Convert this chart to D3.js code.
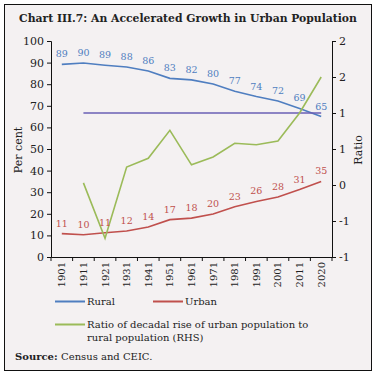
<!DOCTYPE html>
<html>
<head>
<meta charset="utf-8">
<script src="https://cdn.jsdelivr.net/npm/d3@7"></script>
<style>
  body { margin: 0; background: #fff; }
  text { font-family: "DejaVu Serif", "Liberation Serif", serif; fill: #222; }
  .axis path, .axis line { stroke: #111; }
</style>
</head>
<body>
<div id="chart-area"></div>
<script>
var years = ["1901", "1911", "1921", "1931", "1941", "1951", "1961", "1971", "1981", "1991", "2001", "2011", "2020"];
var rural = [89.2, 89.8, 88.8, 88.0, 86.1, 82.7, 82.0, 80.1, 76.7, 74.3, 72.2, 68.8, 65.0];
var urban = [10.8, 10.3, 11.2, 12.0, 13.9, 17.3, 18.0, 19.9, 23.3, 25.7, 27.8, 31.2, 35.0];
// ratio starts in 1911
var ratioYears = years.slice(1);
var ratio = [0.03, -0.74, 0.25, 0.37, 0.76, 0.28, 0.39, 0.58, 0.56, 0.61, 1.0, 1.5];
var refLine = 1;
var leftTicks = [0, 10, 20, 30, 40, 50, 60, 70, 80, 90, 100];
var rightTicks = [-1, -0.5, 0, 0.5, 1, 1.5, 2];

var W = 376, H = 377;
var svg = d3.select("#chart-area").append("svg")
    .attr("width", W)
    .attr("height", H);

svg.append("rect")
    .attr("x", 4.5).attr("y", 4.5)
    .attr("width", 367).attr("height", 366)
    .attr("fill", "#f4f1f2")
    .attr("stroke", "#111")
    .attr("stroke-width", 1);

svg.append("text")
    .attr("x", 188)
    .attr("y", 22)
    .attr("text-anchor", "middle")
    .attr("font-size", "10.8px")
    .attr("font-weight", "bold")
    .text("Chart III.7: An Accelerated Growth in Urban Population");

var x = d3.scaleBand().domain(years).range([51, 332]);
var yL = d3.scaleLinear().domain([0, 100]).range([257, 41]);
var yR = d3.scaleLinear().domain([-1, 2]).range([257, 41]);
var cx = function(d) { return x(d) + x.bandwidth() / 2; };

// axes
svg.append("g")
    .attr("class", "axis")
    .attr("transform", "translate(51,0)")
    .call(d3.axisLeft(yL).tickValues(leftTicks).tickSize(4).tickPadding(3))
    .selectAll("text").attr("font-size", "11px").attr("font-family", "DejaVu Serif");

svg.append("g")
    .attr("class", "axis")
    .attr("transform", "translate(332,0)")
    .call(d3.axisRight(yR).tickValues(rightTicks).tickSize(4).tickPadding(3)
        .tickFormat(function(d) { return Math.sign(d) * Math.round(Math.abs(d)); }))
    .selectAll("text").attr("font-size", "11px").attr("font-family", "DejaVu Serif");

var xAxis = svg.append("g")
    .attr("class", "axis")
    .attr("transform", "translate(0,257)")
    .call(d3.axisBottom(x).tickSize(0).tickSizeOuter(0));
xAxis.selectAll(".tick text")
    .attr("font-size", "10px")
    .attr("font-family", "DejaVu Serif")
    .attr("text-anchor", "end")
    .attr("transform", "translate(0,5) rotate(-90)")
    .attr("x", 0)
    .attr("y", 0)
    .attr("dy", "0.35em");
var bounds = years.map(function(d) { return x(d); }).concat([x.range()[1]]);
xAxis.selectAll(".bt").data(bounds).enter().append("line")
    .attr("x1", function(d) { return d; }).attr("x2", function(d) { return d; })
    .attr("y1", 0).attr("y2", 4)
    .attr("stroke", "#111");

svg.append("text")
    .attr("transform", "translate(22,150) rotate(-90)")
    .attr("text-anchor", "middle")
    .attr("font-size", "11px")
    .text("Per cent");

svg.append("text")
    .attr("transform", "translate(362,150) rotate(-90)")
    .attr("text-anchor", "middle")
    .attr("font-size", "11px")
    .text("Ratio");

// lines
var lineL = d3.line().x(function(d, i) { return cx(years[i]); }).y(function(d) { return yL(d); });
var lineR = d3.line().x(function(d, i) { return cx(ratioYears[i]); }).y(function(d) { return yR(d); });

svg.append("path").datum(rural).attr("d", lineL)
    .attr("fill", "none").attr("stroke", "#4f7ec0").attr("stroke-width", 1.6);
svg.append("path").datum(urban).attr("d", lineL)
    .attr("fill", "none").attr("stroke", "#c0504d").attr("stroke-width", 1.6);
svg.append("line")
    .attr("x1", cx(ratioYears[0])).attr("x2", cx(ratioYears[ratioYears.length - 1]))
    .attr("y1", yR(refLine)).attr("y2", yR(refLine))
    .attr("stroke", "#6a5fb4").attr("stroke-width", 1.6);
svg.append("path").datum(ratio).attr("d", lineR)
    .attr("fill", "none").attr("stroke", "#9bbb59").attr("stroke-width", 1.6);

// data labels
svg.selectAll(".rl").data(rural).enter().append("text")
    .attr("x", function(d, i) { return cx(years[i]); })
    .attr("y", function(d) { return yL(d) - 7; })
    .attr("text-anchor", "middle")
    .attr("font-size", "9.5px")
    .style("fill", "#4f7ec0")
    .text(function(d) { return d3.format(".0f")(d); });
svg.selectAll(".ul").data(urban).enter().append("text")
    .attr("x", function(d, i) { return cx(years[i]); })
    .attr("y", function(d) { return yL(d) - 7; })
    .attr("text-anchor", "middle")
    .attr("font-size", "9.5px")
    .style("fill", "#c0504d")
    .text(function(d) { return d3.format(".0f")(d); });

// legend
var legend = [
    { label: ["Rural"], color: "#4f7ec0", x: 55, y: 305 },
    { label: ["Urban"], color: "#c0504d", x: 153, y: 305 },
    { label: ["Ratio of decadal rise of urban population to", "rural population (RHS)"], color: "#9bbb59", x: 55, y: 328 }
];
legend.forEach(function(l) {
    svg.append("line")
        .attr("x1", l.x).attr("x2", l.x + 30)
        .attr("y1", l.y - 3.5).attr("y2", l.y - 3.5)
        .attr("stroke", l.color).attr("stroke-width", 2);
    var t = svg.append("text").attr("x", l.x + 32).attr("y", l.y).attr("font-size", "10px");
    l.label.forEach(function(s, i) {
        t.append("tspan").attr("x", l.x + 32).attr("dy", i ? 13 : 0).text(s);
    });
});

var src = svg.append("text").attr("x", 15).attr("y", 360).attr("font-size", "10px");
src.append("tspan").attr("font-weight", "bold").text("Source: ");
src.append("tspan").text("Census and CEIC.");
</script>
</body>
</html>
